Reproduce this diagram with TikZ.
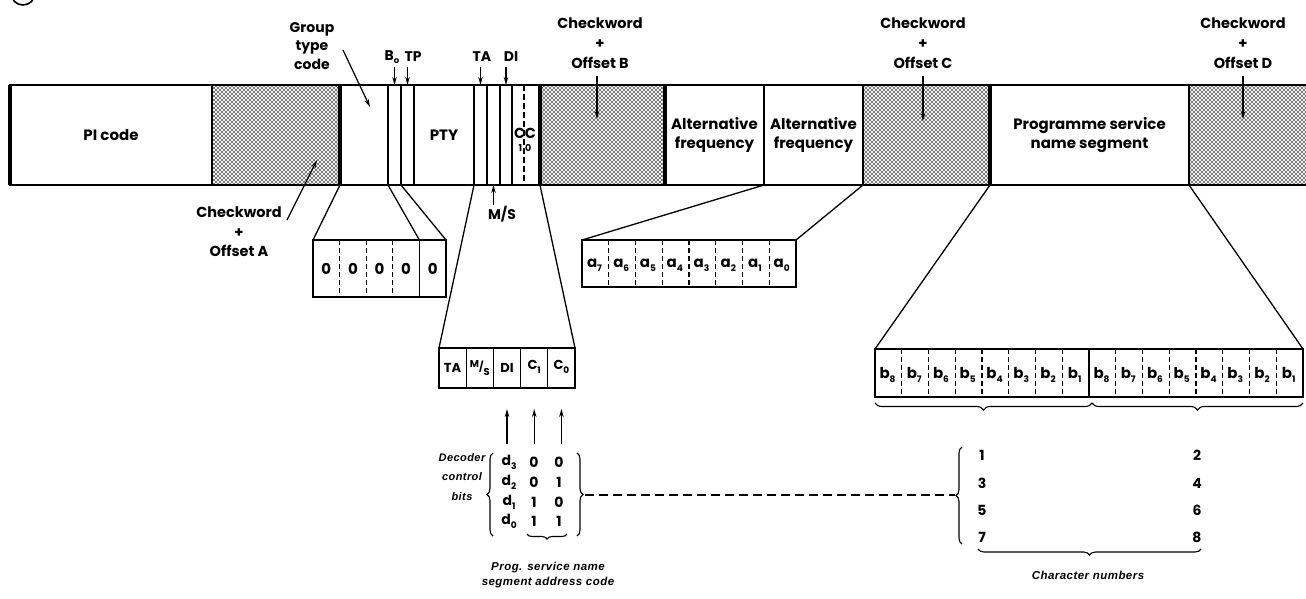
\documentclass[tikz,border=0pt]{standalone}
\usepackage{fontspec}
\setmainfont{Poppins}
\newfontfamily\capfont{Liberation Sans}[LetterSpace=4]
\usetikzlibrary{patterns,arrows.meta,decorations.pathreplacing,calc}

% dot screen used for the checkword blocks
\pgfdeclarepatternformonly{ckdots}{\pgfqpoint{-1pt}{-1pt}}{\pgfqpoint{5pt}{5pt}}{\pgfqpoint{4pt}{4pt}}{%
  \pgfpathcircle{\pgfqpoint{0pt}{0pt}}{0.95pt}%
  \pgfpathcircle{\pgfqpoint{2pt}{2pt}}{0.95pt}%
  \pgfusepath{fill}}

% letter with a lowered index
\newcommand\sbx[2]{#1\raisebox{-4pt}{\fontsize{9}{9}\selectfont #2}}

\begin{document}
\begin{tikzpicture}[x=1pt,y=-1pt,
  every node/.style={font=\fontsize{14}{16}\selectfont\bfseries, inner sep=0pt, outer sep=0pt},
  seg/.style={draw, line width=1.4pt, minimum height=100pt, anchor=north west, align=center,
              font=\fontsize{15}{19.5}\selectfont\bfseries},
  shadeseg/.style={seg, preaction={fill=gray!12}, pattern=ckdots, pattern color=black},
  thinln/.style={line width=1.3pt},
  dashln/.style={line width=1.3pt, dash pattern=on 5pt off 3pt},
  arr/.style={line width=1.2pt, -{Stealth[length=8pt,width=4.5pt]}},
  bitbox/.style={draw, line width=1.9pt, anchor=north west},
  celltxt/.style={font=\fontsize{14}{14}\selectfont\bfseries},
  ckl/.style={align=center, font=\fontsize{14.5}{20}\selectfont\bfseries},
  captxt/.style={align=center, font=\capfont\fontsize{11.5}{15}\selectfont\bfseries\itshape},
  brc/.style={decorate, decoration={brace, amplitude=6pt}, line width=1.1pt},
]
\useasboundingbox (0,0) rectangle (1306,598);

% circled figure number, cut by the top edge
\draw[line width=1.6pt] (23,-7) circle (12pt);

% ---- the block (one RDS group) ----
\node[seg, minimum width=202pt] (pi) at (10,85) {PI code};
\node[shadeseg, minimum width=128pt] (ckA) at (212,85) {};
\node[seg, minimum width=48pt] (gt) at (340,85) {};
\node[seg, minimum width=13pt] (b0) at (388,85) {};
\node[seg, minimum width=13pt] (tp) at (401,85) {};
\node[seg, minimum width=60pt] (pty) at (414,85) {PTY};
\node[seg, minimum width=13pt] (ta) at (474,85) {};
\node[seg, minimum width=13pt] (ms) at (487,85) {};
\node[seg, minimum width=12pt] (di) at (500,85) {};
\node[seg, minimum width=28pt] (cc) at (512,85) {};
\node[shadeseg, minimum width=125pt] (ckB) at (540,85) {};
\node[seg, minimum width=99pt] (af1) at (665,85) {Alternative\\frequency};
\node[seg, minimum width=99pt] (af2) at (764,85) {Alternative\\frequency};
\node[shadeseg, minimum width=127pt] (ckC) at (863,85) {};
\node[seg, minimum width=199pt] (ps) at (990,85) {Programme service\\name segment};
\node[shadeseg, minimum width=130pt] (ckD) at (1189,85) {};

% C1 / C0 split
\draw[line width=1.3pt, dash pattern=on 6pt off 3pt] ($(cc.north west)!0.43!(cc.north east)$) -- ($(cc.south west)!0.43!(cc.south east)$);
\node (ccC) at (525,133) {\fontsize{14.5}{14.5}\selectfont C\kern-0.5pt C};
\node (cc10) at (525,148) {\fontsize{9.5}{9.5}\selectfont 1\kern3pt0};

% heavy outline of the block
\draw[line width=2.6pt] (pi.north west) -- (ckD.north east);
\draw[line width=2.6pt] (pi.south west) -- (ckD.south east);
\draw[line width=3.6pt] (pi.north west) -- (pi.south west);
\draw[line width=3.6pt] (gt.north west) -- (gt.south west);
\draw[line width=3.2pt] (ckB.north west) -- (ckB.south west);
\draw[line width=3.6pt] (ckB.north east) -- (ckB.south east);
\draw[line width=2.2pt] (ckC.north west) -- (ckC.south west);
\draw[line width=3.6pt] (ckC.north east) -- (ckC.south east);
\draw[line width=2.2pt] (ckD.north west) -- (ckD.south west);

% ---- labels above the block ----
\node[ckl, font=\fontsize{14}{18.5}\selectfont\bfseries] (gtl) at (312,46) {Group\\type\\code};
\coordinate (gtA0) at (343,50);
\coordinate (gtA1) at (370,107);
\draw[arr] (gtA0) -- (gtA1);

\node (b0l) at (392,57) {B\raisebox{-3pt}{\fontsize{8.5}{8.5}\selectfont o}};
\node (tpl) at (413,57) {TP};
\node (tal) at (482,57) {TA};
\node (dil) at (511,57) {DI};
\draw[arr] (b0.north |- 0,67) -- (b0.north);
\draw[arr] (tp.north |- 0,67) -- (tp.north);
\draw[arr] (ta.north |- 0,67) -- (ta.north);
\draw[arr] (di.north |- 0,67) -- (di.north);

\node[ckl] (ckBl) at (600,43) {Checkword\\+\\Offset B};
\node[ckl] (ckCl) at (923,43) {Checkword\\+\\Offset C};
\node[ckl] (ckDl) at (1243,43) {Checkword\\+\\Offset D};
\coordinate (ckBt) at (597,119);
\coordinate (ckCt) at (923,121);
\coordinate (ckDt) at (1243,119);
\draw[arr] (ckBt |- 0,76) -- (ckBt);
\draw[arr] (ckCt |- 0,76) -- (ckCt);
\draw[arr] (ckDt |- 0,76) -- (ckDt);

% ---- labels below the block ----
\node[ckl, font=\fontsize{14.5}{19.5}\selectfont\bfseries] (ckAl) at (239,232) {Checkword\\+\\Offset A};
\coordinate (ckA0) at (287,220);
\coordinate (ckA1) at (317,160);
\draw[arr] (ckA0) -- (ckA1);

\node (msl) at (502,214) {M/S};
\draw[arr] (ms.south |- 0,205) -- (ms.south);

% ---- group type code + B0 bits ----
\node[bitbox, minimum width=133pt, minimum height=57pt] (gbox) at (313,240) {};
\foreach \k in {1,2,3}
  \draw[dashln] ($(gbox.north west)+(\k*26.6,0)$) -- ($(gbox.south west)+(\k*26.6,0)$);
\draw[thinln] ($(gbox.north west)+(106.4,0)$) coordinate (gsplit) -- ($(gbox.south west)+(106.4,0)$);
\foreach \k in {0,...,4}
  \node[celltxt, font=\fontsize{15}{15}\selectfont\bfseries] (g\k) at ($(gbox.west)+(13.3+\k*26.6,0)$) {0};
\draw[thinln] (gt.south west) -- (gbox.north west);
\draw[thinln] (b0.south west) -- (gsplit);
\draw[thinln] (b0.south east) -- (gbox.north east);

% ---- alternative frequency bits ----
\node[bitbox, minimum width=214pt, minimum height=47pt] (abox) at (582,240) {};
\foreach \k in {1,...,7}
  \draw[dashln] ($(abox.north west)+(\k*26.75,0)$) -- ($(abox.south west)+(\k*26.75,0)$);
\foreach \k in {0,...,7}{
  \pgfmathtruncatemacro\n{7-\k}
  \node[celltxt, font=\fontsize{15}{15}\selectfont\bfseries] (a\n) at ($(abox.west)+(12.5+\k*26.75,2)$) {\sbx{a}{\n}};
}
\draw[thinln] (af2.south west) -- (abox.north west);
\draw[thinln] (af2.south east) -- (abox.north east);

% ---- TA, M/S, DI, C1, C0 ----
\node[bitbox, minimum width=136pt, minimum height=40pt] (tbox) at (439,348) {};
\foreach \k in {1,...,4}
  \draw[thinln] ($(tbox.north west)+(\k*27.2,0)$) -- ($(tbox.south west)+(\k*27.2,0)$);
\node[celltxt, font=\fontsize{13}{13}\selectfont\bfseries] (tTA) at ($(tbox.west)+(13.6,0)$) {TA};
\node[celltxt, font=\fontsize{10}{10}\selectfont\bfseries] (tMS) at ($(tbox.west)+(40.8,0)$) {\raisebox{3pt}{M}/\raisebox{-5pt}{S}};
\node[celltxt, font=\fontsize{13}{13}\selectfont\bfseries] (tDI) at ($(tbox.west)+(68,0)$) {DI};
\node[celltxt, font=\fontsize{13}{13}\selectfont\bfseries] (tC1) at ($(tbox.west)+(95.2,-1)$) {\sbx{C}{1}};
\node[celltxt, font=\fontsize{13}{13}\selectfont\bfseries] (tC0) at ($(tbox.west)+(122.4,-1)$) {\sbx{C}{0}};
\draw[thinln] (ta.south west) -- (tbox.north west);
\draw[thinln] (cc.south east) -- (tbox.north east);

\draw[arr] (tDI |- 0,444) -- (tDI |- 0,409);
\draw[arr] (tC1 |- 0,444) -- (tC1 |- 0,409);
\draw[arr] (tC0 |- 0,444) -- (tC0 |- 0,409);

% decoder control bit table
\foreach \r/\y/\p/\q in {3/462/0/0, 2/482/0/1, 1/502/1/0, 0/521/1/1}{
  \node[celltxt] (d\r) at (509,\y) {\sbx{d}{\r}};
  \node[celltxt] (p\r) at (534,\y) {\p};
  \node[celltxt] (q\r) at (559,\y) {\q};
}
\draw[brc] (493,536) -- (493,453);
\draw[brc] (577,453) -- (577,536);
\draw[brc, decoration={brace, mirror, amplitude=5pt}] (527,534) -- (567,534);
\node[captxt, font=\capfont\fontsize{11}{19.5}\selectfont\bfseries\itshape] (dcb) at (462,477) {Decoder\\control\\bits};
\node[captxt] (psac) at (548,575) {Prog. service name\\segment address code};

% ---- programme service name characters ----
\node[bitbox, minimum width=428pt, minimum height=48pt] (pbox) at (875,349) {};
\foreach \k in {1,...,15}{
  \ifnum\k=8
    \draw[thinln] ($(pbox.north west)+(\k*26.75,0)$) -- ($(pbox.south west)+(\k*26.75,0)$);
  \else
    \draw[dashln] ($(pbox.north west)+(\k*26.75,0)$) -- ($(pbox.south west)+(\k*26.75,0)$);
  \fi
}
\foreach \k in {0,...,15}{
  \pgfmathtruncatemacro\n{8-mod(\k,8)}
  \node[celltxt, font=\fontsize{15}{15}\selectfont\bfseries] (b\k) at ($(pbox.west)+(12.5+\k*26.75,2)$) {\sbx{b}{\n}};
}
\draw[thinln] (ckC.south east) -- (pbox.north west);
\draw[thinln] (ps.south east) -- (pbox.north east);
\draw[brc, decoration={brace, mirror, amplitude=7pt}] (875,403) -- (1092,403);
\draw[brc, decoration={brace, mirror, amplitude=7pt}] (1092,403) -- (1303,403);

% character numbers
\foreach \l/\r/\y in {1/2/455, 3/4/483, 5/6/510, 7/8/537}{
  \node[celltxt] (n\l) at (982,\y) {\l};
  \node[celltxt] (n\r) at (1197,\y) {\r};
}
\draw[brc] (962,544) -- (962,447);
\draw[brc, decoration={brace, mirror, amplitude=6pt}] (978,549) -- (1201,549);
\node[captxt] (chn) at (1088,575) {Character numbers};

% link between the address code and the character pairs
\coordinate (rbr) at (585,495);
\coordinate (lbr) at (955,495);
\draw[line width=1.1pt, dash pattern=on 9pt off 5pt] (rbr) -- (lbr);
\end{tikzpicture}
\end{document}
